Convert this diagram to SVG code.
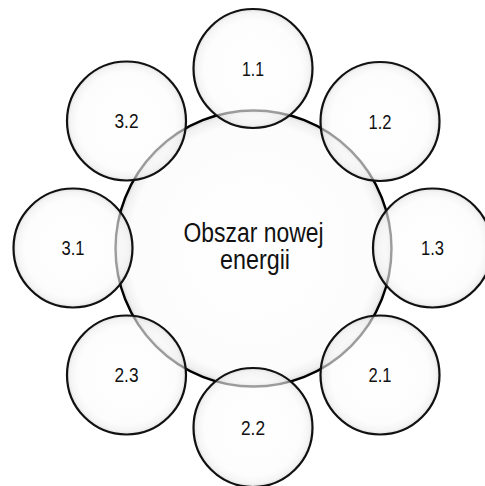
<svg xmlns="http://www.w3.org/2000/svg" width="485" height="486" viewBox="0 0 485 486">
<defs>
<radialGradient id="glowB" cx="50%" cy="50%" r="50%">
<stop offset="0" stop-color="#ffffff"/>
<stop offset="0.9" stop-color="#fcfcfc"/>
<stop offset="0.97" stop-color="#f0f0f0"/>
<stop offset="1" stop-color="#d6d6d6"/>
</radialGradient>
<radialGradient id="glowS" cx="50%" cy="50%" r="50%">
<stop offset="0" stop-color="#ffffff"/>
<stop offset="0.82" stop-color="#fbfbfb"/>
<stop offset="0.94" stop-color="#eeeeee"/>
<stop offset="1" stop-color="#cfcfcf"/>
</radialGradient>
</defs>
<style>
.big{fill:url(#glowB);stroke:#000;stroke-width:2.4}
.sm{fill:url(#glowS);fill-opacity:0.62;stroke:#111;stroke-width:2.2}
.lbl{font-family:"Liberation Sans",Arial,sans-serif;font-size:20px;fill:#111;text-anchor:middle}
.ctr{font-family:"Liberation Sans",Arial,sans-serif;font-size:27px;fill:#111;text-anchor:middle}
</style>
<rect width="485" height="486" fill="#ffffff"/>
<g id="connectors"/>
<g id="center">
<circle class="big" cx="253.5" cy="248.5" r="138"/>
<text class="ctr" x="253.5" y="241.5" textLength="140" lengthAdjust="spacingAndGlyphs">Obszar nowej</text>
<text class="ctr" x="255" y="269" textLength="70" lengthAdjust="spacingAndGlyphs">energii</text>
</g>
<g id="n1_1"><circle class="sm" cx="253" cy="68.5" r="59.5"/><text class="lbl" x="253" y="75.5" textLength="22" lengthAdjust="spacingAndGlyphs">1.1</text></g>
<g id="n1_2"><circle class="sm" cx="380" cy="121.5" r="59.5"/><text class="lbl" x="380" y="128.5" textLength="23" lengthAdjust="spacingAndGlyphs">1.2</text></g>
<g id="n1_3"><circle class="sm" cx="432.5" cy="248" r="59.5"/><text class="lbl" x="432.5" y="255" textLength="23" lengthAdjust="spacingAndGlyphs">1.3</text></g>
<g id="n2_1"><circle class="sm" cx="380" cy="375" r="59.5"/><text class="lbl" x="380" y="382" textLength="23" lengthAdjust="spacingAndGlyphs">2.1</text></g>
<g id="n2_2"><circle class="sm" cx="253" cy="427.5" r="59.5"/><text class="lbl" x="253" y="434.5" textLength="24" lengthAdjust="spacingAndGlyphs">2.2</text></g>
<g id="n2_3"><circle class="sm" cx="126.5" cy="375" r="59.5"/><text class="lbl" x="126.5" y="382" textLength="24" lengthAdjust="spacingAndGlyphs">2.3</text></g>
<g id="n3_1"><circle class="sm" cx="73" cy="248" r="59.5"/><text class="lbl" x="73" y="255" textLength="23" lengthAdjust="spacingAndGlyphs">3.1</text></g>
<g id="n3_2"><circle class="sm" cx="126.5" cy="121" r="59.5"/><text class="lbl" x="126.5" y="128" textLength="24" lengthAdjust="spacingAndGlyphs">3.2</text></g>
</svg>
